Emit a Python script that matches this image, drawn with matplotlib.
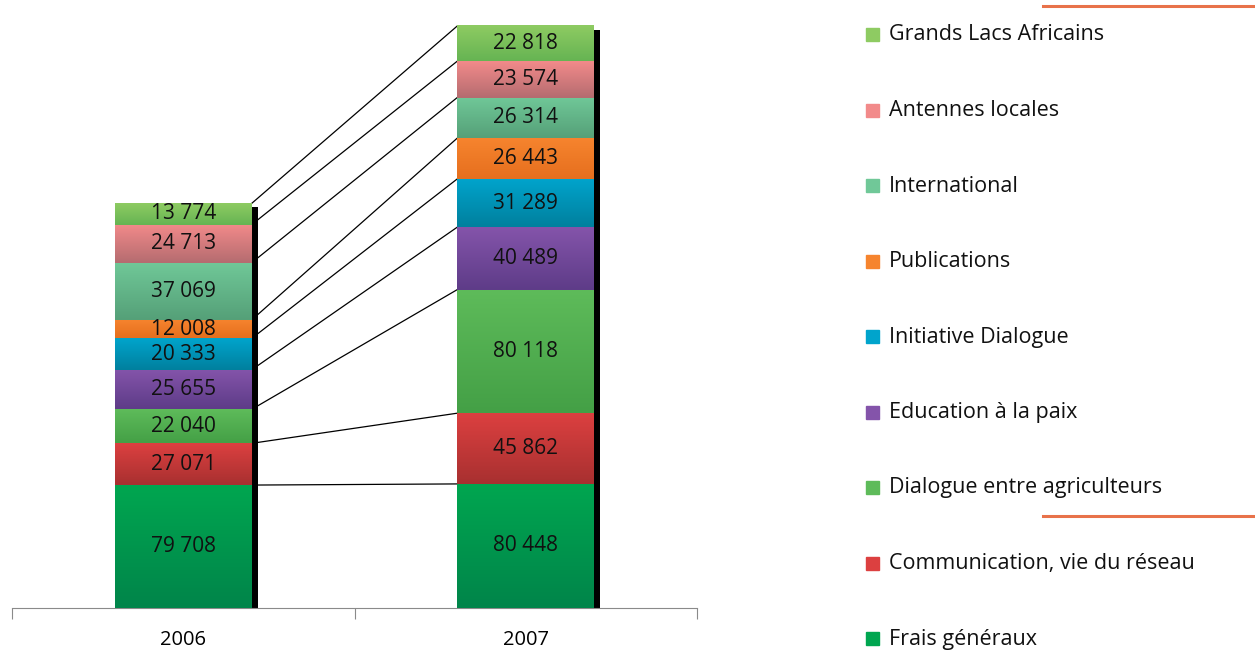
import numpy as np
import matplotlib
matplotlib.use("Agg")
import matplotlib.pyplot as plt
from matplotlib.colors import LinearSegmentedColormap
from matplotlib.patches import Rectangle
from matplotlib.lines import Line2D

plt.rcParams["font.family"] = ["Open Sans", "DejaVu Sans"]

years = ["2006", "2007"]
series = ["Frais généraux", "Communication, vie du réseau", "Dialogue entre agriculteurs",
          "Education à la paix", "Initiative Dialogue", "Publications",
          "International", "Antennes locales", "Grands Lacs Africains"]
v2006 = [79708, 27071, 22040, 25655, 20333, 12008, 37069, 24713, 13774]
v2007 = [80448, 45862, 80118, 40489, 31289, 26443, 26314, 23574, 22818]
# (top colour, bottom colour) of the gradient fill
colors = [("#00a650", "#00854a"), ("#dc4040", "#a83030"), ("#5ebb5a", "#44a046"),
          ("#8454aa", "#5e3c88"), ("#00a4cc", "#00809e"), ("#f6842e", "#e66f1e"),
          ("#70c898", "#55a078"), ("#f28a8a", "#b56c70"), ("#8ecb62", "#66b453")]

W, H = 1255, 653
fig = plt.figure(figsize=(W / 100, H / 100), dpi=100)
ax = fig.add_axes([12 / W, (H - 608) / H, (697 - 12) / W, 608 / H])
px_per_unit = 582 / sum(v2007)
ymax = 608 / px_per_unit
bw = 0.4
dx_sh = 6 / 342.5
dy_sh = 4 / px_per_unit

vals = np.array([v2006, v2007], dtype=float)
cum = np.cumsum(vals, axis=1)
bottoms = cum - vals
grad = np.linspace(1, 0, 64).reshape(-1, 1)

for i, yr in enumerate(years):
    xc = i * 1.0
    # black shadow to the right of the stack
    ax.add_patch(Rectangle((xc + bw / 2, 0), dx_sh, cum[i, -1] - dy_sh,
                           color="black", zorder=2, lw=0))
    for j, name in enumerate(series):
        y0, y1 = bottoms[i, j], cum[i, j]
        cmap = LinearSegmentedColormap.from_list(name, [colors[j][1], colors[j][0]])
        ax.imshow(grad, cmap=cmap, aspect="auto", extent=[xc - bw / 2, xc + bw / 2, y0, y1],
                  zorder=3, interpolation="bilinear")
        ax.text(xc, (y0 + y1) / 2, f"{int(vals[i, j]):,}".replace(",", " "),
                ha="center", va="center", fontsize=15, color="#111111", zorder=4)

# series lines between the two stacks
for j in range(len(series)):
    ax.plot([bw / 2, 1 - bw / 2], [cum[0, j], cum[1, j]], color="black", lw=0.9, zorder=1)

ax.set_xlim(-0.5, 1.5)
ax.set_ylim(0, ymax)
ax.set_yticks([])
for s in ["top", "right", "left"]:
    ax.spines[s].set_visible(False)
ax.spines["bottom"].set_color("#8a8a8a")
ax.set_xticks([-0.5, 0.5, 1.5])
ax.set_xticklabels([])
ax.tick_params(axis="x", length=8, color="#8a8a8a")
ax.set_xticks([0, 1], minor=True)
ax.set_xticklabels(years, minor=True, fontsize=14.5)
ax.tick_params(axis="x", which="minor", length=0, pad=16)

# legend, top entry = last series
for k, j in enumerate(reversed(range(len(series)))):
    ypx = 35 + k * 75.5
    fig.add_artist(Rectangle((866 / W, 1 - (ypx + 6) / H), 13 / W, 13 / H,
                             color=colors[j][0], transform=fig.transFigure))
    fig.text(889 / W, 1 - ypx / H, series[j], fontsize=15.5, va="center", ha="left",
             color="#111111")

for ypx in (6, 516):
    fig.add_artist(Line2D([1043 / W, 1], [1 - ypx / H] * 2, color="#e8724a", lw=2.2,
                          transform=fig.transFigure))

fig.savefig("out.png", dpi=100, facecolor="white")
